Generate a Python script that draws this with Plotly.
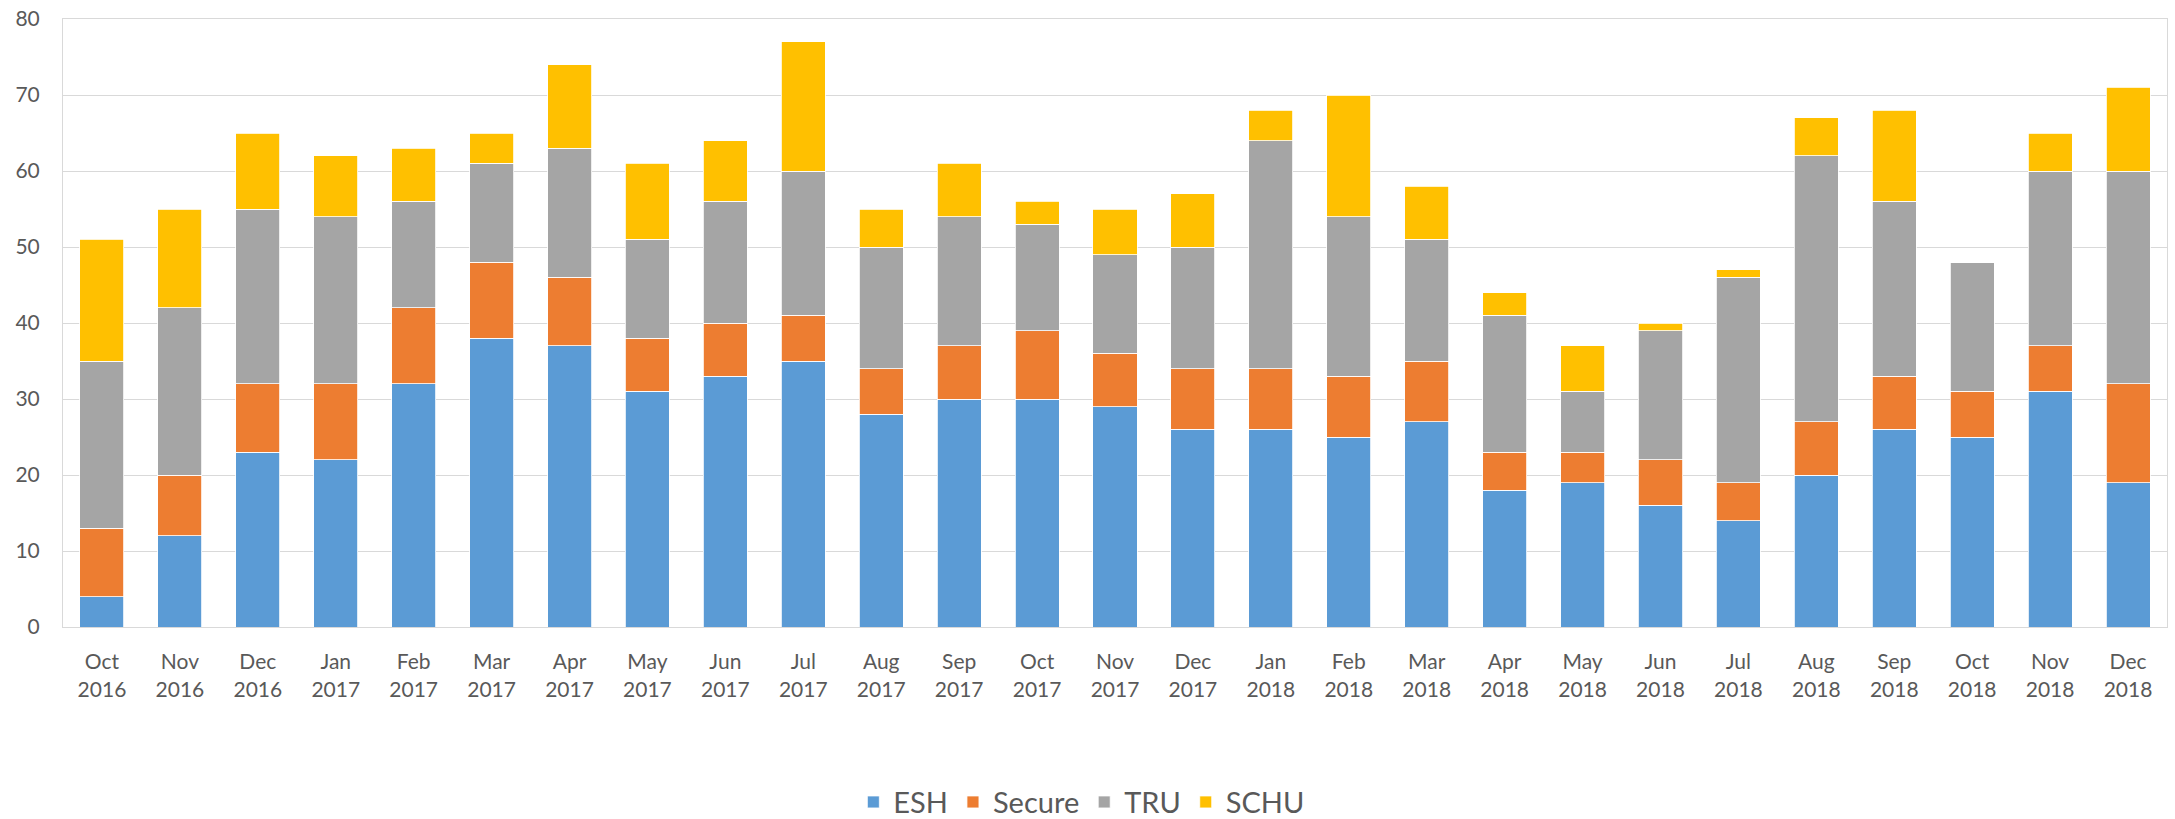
import plotly.graph_objects as go

months = ["Oct<br>2016", "Nov<br>2016", "Dec<br>2016",
          "Jan<br>2017", "Feb<br>2017", "Mar<br>2017", "Apr<br>2017", "May<br>2017", "Jun<br>2017",
          "Jul<br>2017", "Aug<br>2017", "Sep<br>2017", "Oct<br>2017", "Nov<br>2017", "Dec<br>2017",
          "Jan<br>2018", "Feb<br>2018", "Mar<br>2018", "Apr<br>2018", "May<br>2018", "Jun<br>2018",
          "Jul<br>2018", "Aug<br>2018", "Sep<br>2018", "Oct<br>2018", "Nov<br>2018", "Dec<br>2018"]

esh    = [4, 12, 23, 22, 32, 38, 37, 31, 33, 35, 28, 30, 30, 29, 26, 26, 25, 27, 18, 19, 16, 14, 20, 26, 25, 31, 19]
secure = [9, 8, 9, 10, 10, 10, 9, 7, 7, 6, 6, 7, 9, 7, 8, 8, 8, 8, 5, 4, 6, 5, 7, 7, 6, 6, 13]
tru    = [22, 22, 23, 22, 14, 13, 17, 13, 16, 19, 16, 17, 14, 13, 16, 30, 21, 16, 18, 8, 17, 27, 35, 23, 17, 23, 28]
schu   = [16, 13, 10, 8, 7, 4, 11, 10, 8, 17, 5, 7, 3, 6, 7, 4, 16, 7, 3, 6, 1, 1, 5, 12, 0, 5, 11]

series = [("ESH", esh, "#5B9BD5"), ("Secure", secure, "#ED7D31"),
          ("TRU", tru, "#A5A5A5"), ("SCHU", schu, "#FFC000")]

FONT = "Lato, 'Open Sans', sans-serif"
TXT = "#595959"
GRID = "#D9D9D9"

fig = go.Figure()
for name, vals, col in series:
    fig.add_trace(go.Bar(x=months, y=vals, name=name,
                         marker=dict(color=col, line=dict(color="white", width=0.8))))

fig.update_layout(
    barmode="stack",
    bargap=0.435,
    width=2175, height=819,
    margin=dict(l=63, r=8, t=19, b=192, autoexpand=False),
    paper_bgcolor="white", plot_bgcolor="white",
    font=dict(family=FONT, color=TXT, size=21),
    legend=dict(orientation="h", x=0.484, xanchor="center", y=-0.288, yanchor="middle",
                font=dict(size=29, color=TXT), itemwidth=30, traceorder="normal"),
    showlegend=True,
)
fig.update_xaxes(showgrid=False, showline=True, linecolor=GRID, linewidth=1, mirror=True,
                 ticks="", tickfont=dict(size=21, color=TXT), ticklabelstandoff=16)
fig.update_yaxes(range=[0, 80], dtick=10, showgrid=True, gridcolor=GRID, gridwidth=1,
                 showline=True, linecolor=GRID, linewidth=1, mirror=True, zeroline=False,
                 ticks="", tickfont=dict(size=21, color=TXT), ticklabelstandoff=18)

fig.write_html("out.html",
               config={"displayModeBar": False},
               post_script="document.body.style.margin='0';document.body.style.overflow='hidden';")
